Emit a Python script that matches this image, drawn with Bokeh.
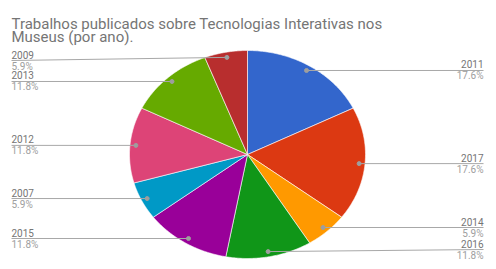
import numpy as np
from bokeh.plotting import figure
from bokeh.models import Range1d
from bokeh.core.properties import value
from bokeh.embed import file_html
from bokeh.resources import INLINE

# ---- data ----
years = ["2011", "2017", "2014", "2016", "2015", "2007", "2012", "2013", "2009"]
counts = [3, 3, 1, 2, 2, 1, 2, 2, 1]
colors = ["#3366cc", "#dc3912", "#ff9900", "#109618", "#990099",
          "#0099c6", "#dd4477", "#66aa00", "#b82e2e"]
title_lines = ["Trabalhos publicados sobre Tecnologias Interativas nos",
               "Museus (por ano)."]

W, H = 488, 261
p = figure(width=W, height=H, output_backend="svg", toolbar_location=None,
           x_range=Range1d(0, W), y_range=Range1d(H, 0), min_border=0)
p.axis.visible = False
p.grid.visible = False
p.outline_line_color = None
p.background_fill_color = "white"

# pie geometry (figure pixel coordinates)
cx, cy, rx, ry = 247, 154, 118, 104
total = sum(counts)
frac = np.array(counts) / total
ends = np.cumsum(frac) * 2 * np.pi
starts = ends - frac * 2 * np.pi

xs, ys = [], []
for a0, a1 in zip(starts, ends):
    t = np.linspace(a0, a1, 80)
    xs.append([cx] + list(cx + rx * np.sin(t)) + [cx])
    ys.append([cy] + list(cy - ry * np.cos(t)) + [cy])
p.patches(xs, ys, fill_color=colors, line_color="white", line_width=0.6)

# labels
mids = (starts + ends) / 2
dx = cx + 0.95 * rx * np.sin(mids)
dy = cy - 0.95 * ry * np.cos(mids)
right = np.sin(mids) > 0
lx_l, lx_r = 11, 483
lxs, lys = [], []
for i, yr in enumerate(years):
    if right[i]:
        ly = min(dy[i], 249)
        ex = lx_r
        align = "right"
    else:
        ly = max(dy[i], 60)
        ex = lx_l
        align = "left"
    lxs.append([dx[i], ex])
    lys.append([dy[i], ly])
    pct = f"{counts[i] / total * 100:.1f}%"
    p.text(x=[ex], y=[ly - 6], text=[yr], text_align=align, text_baseline="middle",
           text_font=value("Roboto"), text_font_size="10px", text_color="#757575")
    p.text(x=[ex], y=[ly + 5.5], text=[pct], text_align=align, text_baseline="middle",
           text_font=value("Roboto"), text_font_size="10px", text_color="#9e9e9e")
p.multi_line(lxs, lys, line_color="#a8a8a8", line_width=1)
p.scatter(dx, dy, size=4, color="#9e9e9e")

# title
for k, t in enumerate(title_lines):
    p.text(x=[11], y=[23 + k * 13], text=[t], text_align="left", text_baseline="alphabetic",
           text_font=value("Roboto"), text_font_size="15px", text_color="#757575")

open("out.html", "w").write(file_html(p, INLINE))
